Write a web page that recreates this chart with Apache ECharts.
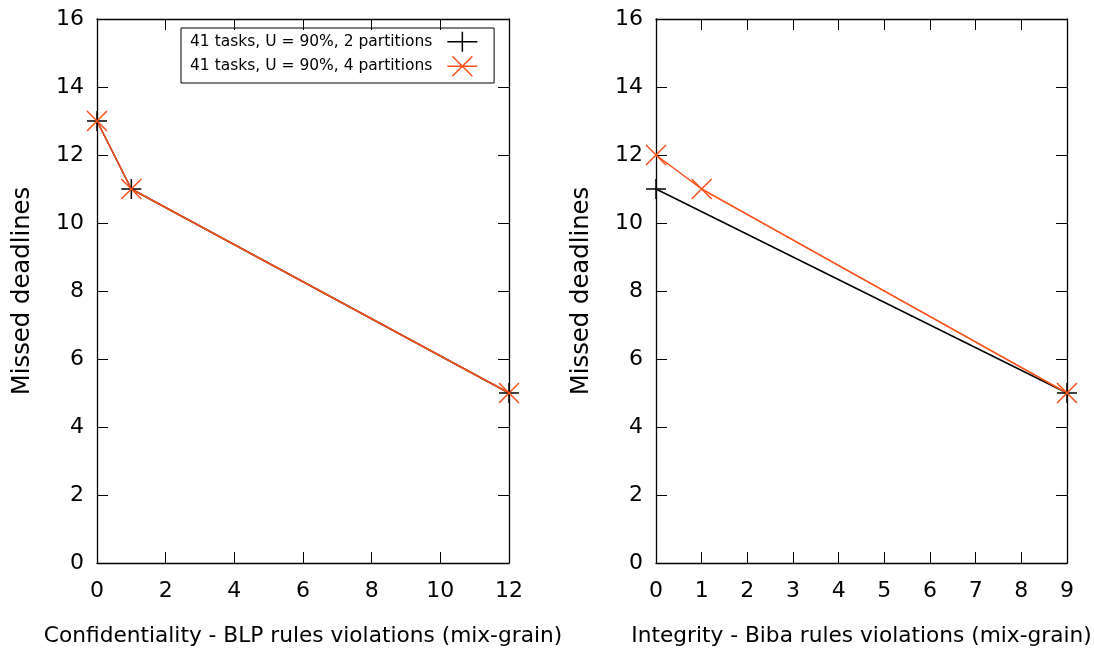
<!DOCTYPE html>
<html>
<head>
<meta charset="utf-8">
<script src="https://cdn.jsdelivr.net/npm/echarts@6/dist/echarts.min.js"></script>
<style>
html,body{margin:0;padding:0;background:#fff;}
#c{width:1094px;height:648px;}
</style>
</head>
<body>
<div id="c"></div>
<script>
// ---- data ----
const seriesNames = ['41 tasks, U = 90%, 2 partitions', '41 tasks, U = 90%, 4 partitions'];
const blpX2 = [0, 1, 12];
const blpY2 = [13, 11, 5];
const blpX4 = [0, 1, 12];
const blpY4 = [13, 11, 5];
const bibaX2 = [0, 9];
const bibaY2 = [11, 5];
const bibaX4 = [0, 1, 9];
const bibaY4 = [12, 11, 5];
const leftXTitle = 'Confidentiality - BLP rules violations (mix-grain)';
const rightXTitle = 'Integrity - Biba rules violations (mix-grain)';
const yTitle = 'Missed deadlines';

const BLACK = '#000000';
const ORANGE = '#fa5018';
const FONT = 'DejaVu Sans';
const PLUS = 'path://M0,10L20,10M10,0L10,20';
const CROSS = 'path://M0,0L20,20M20,0L0,20';
const PLUS_KEY = 'path://M0,10L30,10M15,0L15,20';
const CROSS_KEY = 'path://M0,10L30,10M5,0L25,20M25,0L5,20';

function pairs(xs, ys) { return xs.map((x, i) => [x, ys[i]]); }

const chart = echarts.init(document.getElementById('c'), null, {renderer: 'canvas'});

const grids = [
  {left: 97, top: 19, width: 412, height: 544, containLabel: false, outerBoundsMode: 'none'},
  {left: 656, top: 19, width: 411, height: 544, containLabel: false, outerBoundsMode: 'none'}
];

function xAx(gi, max, interval, name, top) {
  return {
    type: 'value', gridIndex: gi, min: 0, max: max, interval: interval,
    position: top ? 'top' : 'bottom',
    name: top ? '' : name, nameLocation: 'middle', nameGap: 62,
    nameTextStyle: {fontFamily: FONT, fontSize: 21.7, color: '#000'},
    axisLine: {show: true, onZero: false, lineStyle: {color: '#000', width: 1.3}},
    axisTick: {show: true, inside: true, length: 11, lineStyle: {color: '#000', width: 1}},
    axisLabel: {show: !top, fontFamily: FONT, fontSize: 22, color: '#000', margin: 17},
    splitLine: {show: false}
  };
}
function yAx(gi, right) {
  return {
    type: 'value', gridIndex: gi, min: 0, max: 16, interval: 2,
    position: right ? 'right' : 'left',
    name: right ? '' : yTitle, nameLocation: 'middle', nameGap: 62, nameRotate: 90,
    nameTextStyle: {fontFamily: FONT, fontSize: 24.3, color: '#000'},
    axisLine: {show: true, onZero: false, lineStyle: {color: '#000', width: 1.3}},
    axisTick: {show: true, inside: true, length: 11, lineStyle: {color: '#000', width: 1}},
    axisLabel: {show: !right, fontFamily: FONT, fontSize: 22, color: '#000', margin: 13},
    splitLine: {show: false}
  };
}

function ser(name, data, xi, yi, color, sym) {
  return {
    name: name, type: 'line', xAxisIndex: xi, yAxisIndex: yi, data: data,
    symbol: sym, symbolSize: 20, showSymbol: true, animation: false,
    lineStyle: {color: color, width: 1.5},
    itemStyle: {color: color, borderColor: color, borderWidth: 1.5},
    emphasis: {disabled: true}
  };
}

chart.setOption({
  animation: false,
  backgroundColor: '#fff',
  grid: grids,
  xAxis: [
    xAx(0, 12, 2, leftXTitle, false), xAx(1, 9, 1, rightXTitle, false),
    xAx(0, 12, 2, '', true), xAx(1, 9, 1, '', true)
  ],
  yAxis: [yAx(0, false), yAx(1, false), yAx(0, true), yAx(1, true)],
  legend: {
    left: 181, top: 28, orient: 'vertical', align: 'right',
    padding: [3, 16, 6, 9], itemGap: 3, itemWidth: 30, itemHeight: 20,
    borderColor: '#000', borderWidth: 1,
    textStyle: {fontFamily: FONT, fontSize: 15.5, color: '#000', padding: [0, 10, 0, 0]},
    data: [
      {name: seriesNames[0], icon: PLUS_KEY, itemStyle: {color: BLACK, borderColor: BLACK, borderWidth: 1.5}},
      {name: seriesNames[1], icon: CROSS_KEY, itemStyle: {color: ORANGE, borderColor: ORANGE, borderWidth: 1.5}}
    ]
  },
  series: [
    ser(seriesNames[0], pairs(blpX2, blpY2), 0, 0, BLACK, PLUS),
    ser(seriesNames[1], pairs(blpX4, blpY4), 0, 0, ORANGE, CROSS),
    ser(seriesNames[0], pairs(bibaX2, bibaY2), 1, 1, BLACK, PLUS),
    ser(seriesNames[1], pairs(bibaX4, bibaY4), 1, 1, ORANGE, CROSS)
  ]
});
</script>
</body>
</html>
